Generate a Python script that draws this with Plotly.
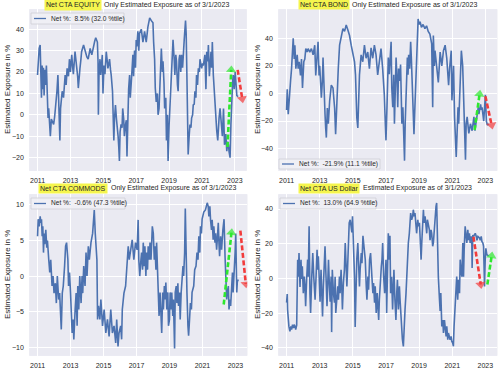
import plotly.graph_objects as go

# ---------------- data (decimal years, % exposure) ----------------
eq_t = [2011.00, 2011.04, 2011.10, 2011.16, 2011.20, 2011.24, 2011.28, 2011.32, 2011.36, 2011.40,
        2011.44, 2011.48, 2011.54, 2011.58, 2011.60, 2011.64, 2011.68, 2011.74, 2011.78, 2011.84,
        2011.88, 2011.98, 2012.04, 2012.08, 2012.14, 2012.18, 2012.24, 2012.28, 2012.32, 2012.36,
        2012.40, 2012.46, 2012.50, 2012.58, 2012.68, 2012.74, 2012.80, 2012.88, 2012.94, 2013.00,
        2013.08, 2013.14, 2013.18, 2013.28, 2013.34, 2013.38, 2013.44, 2013.48, 2013.54, 2013.58,
        2013.64, 2013.68, 2013.80, 2013.88, 2013.94, 2014.00, 2014.08, 2014.14, 2014.20, 2014.30,
        2014.40, 2014.48, 2014.54, 2014.60, 2014.64, 2014.68, 2014.70, 2014.74, 2014.80, 2014.84,
        2014.90, 2014.94, 2014.98, 2015.00, 2015.04, 2015.10, 2015.18, 2015.24, 2015.28, 2015.34,
        2015.38, 2015.44, 2015.48, 2015.56, 2015.60, 2015.64, 2015.68, 2015.74, 2015.80, 2015.84,
        2015.90, 2015.94, 2015.98, 2016.02, 2016.08, 2016.14, 2016.18, 2016.24, 2016.28, 2016.34,
        2016.40, 2016.44, 2016.50, 2016.54, 2016.60, 2016.64, 2016.70, 2016.74, 2016.80, 2016.84,
        2016.90, 2016.96, 2017.00, 2017.04, 2017.10, 2017.16, 2017.20, 2017.31, 2017.41, 2017.51,
        2017.61, 2017.71, 2017.82, 2017.92, 2018.02, 2018.06, 2018.12, 2018.16, 2018.22, 2018.29,
        2018.33, 2018.39, 2018.43, 2018.49, 2018.53, 2018.59, 2018.63, 2018.69, 2018.73, 2018.80,
        2018.84, 2018.90, 2018.94, 2019.00, 2019.04, 2019.10, 2019.14, 2019.20, 2019.24, 2019.31,
        2019.35, 2019.41, 2019.45, 2019.51, 2019.55, 2019.61, 2019.65, 2019.71, 2019.76, 2019.82,
        2019.86, 2019.92, 2020.00, 2020.04, 2020.08, 2020.12, 2020.16, 2020.22, 2020.27, 2020.33,
        2020.37, 2020.43, 2020.47, 2020.53, 2020.57, 2020.63, 2020.67, 2020.73, 2020.78, 2020.84,
        2020.88, 2020.98, 2021.04, 2021.08, 2021.14, 2021.18, 2021.24, 2021.29, 2021.35, 2021.39,
        2021.45, 2021.49, 2021.55, 2021.59, 2021.63, 2021.69, 2021.76, 2021.80, 2021.86, 2021.90,
        2021.96, 2022.00, 2022.04, 2022.10, 2022.16, 2022.24, 2022.31, 2022.37, 2022.45, 2022.51,
        2022.57, 2022.61, 2022.65, 2022.71, 2022.76, 2022.80, 2022.86, 2022.90, 2022.96, 2023.02,
        2023.08, 2023.12, 2023.20]
eq_v = [18.6, 25, 31, 32.6, 17, 8, 23, 12, 22, 9,
        21, 14, 23, 10, 5, -1.5, 3, -6, -10, -2,
        -3, -4.5, -1, 1.6, 6, 11, 18.6, 9, 2, -12,
        3, 8, 11, 8, 18.6, 14, 21.7, 18, 26, 20,
        28, 22, 19, 29.5, 26, 23, 18, 12.5, 20, 21.7,
        26, 29.5, 32.6, 30, 29.5, 27, 26, 29, 31, 28,
        32.6, 34.5, 36, 35, 34, 25, 0, 20, 26, 18.6,
        24, 28, 10, 22, 23, 19, 29.5, 25, 21.7, 24,
        26, 21, 18.6, 11, 3, -12, -2, 4.6, -2, -4.5,
        -10, -15, -21.6, -8, -4.5, -6, 3, -2, -10, -5,
        -2.5, -19.5, 3, 12, 18.6, 8, 15, 22, 28, 18,
        30, 22, 35, 32, 39, 30, 38, 40, 34, 39,
        34, 41, 45.3, 44, 43, 34, 26, 12.5, 6, 10,
        0, 3, 12.5, 22, 31, 20, 25, 15, 3, 8,
        -12, 0, -21.6, -5, 3, 10, 18.6, 28, 35, 26,
        18.6, 28, 25, 14, 11, 26, 28, 20, 28, 22,
        30, 35, 44, 38, 20, -8, -18.5, -10, -4.5, -6,
        -1.5, 0, 4.6, 5, 11, 8, 18.6, 14, 21.7, 20,
        26, 21.7, 24, 23, 26, 28, 12, 29.5, 25, 32.6,
        18, 25, 29.5, 22, 34, 18.6, 9.3, 3, -2, -7.6,
        -12, -3, -1.5, 3, -4.5, -10, 3, -14, -9, -17,
        -12.5, -14, -17.3, -20, -4.5, 9.3, 15, 18.6, 12, 20,
        13, 9, 8.5]

bd_t = [2011.00, 2011.04, 2011.10, 2011.16, 2011.24, 2011.30, 2011.36, 2011.40, 2011.46, 2011.50,
        2011.56, 2011.64, 2011.70, 2011.76, 2011.84, 2011.90, 2011.96, 2012.04, 2012.10, 2012.16,
        2012.24, 2012.30, 2012.40, 2012.50, 2012.60, 2012.70, 2012.76, 2012.84, 2012.90, 2012.96,
        2013.00, 2013.10, 2013.16, 2013.20, 2013.26, 2013.32, 2013.36, 2013.40, 2013.46, 2013.52,
        2013.60, 2013.70, 2013.80, 2013.90, 2013.96, 2014.04, 2014.12, 2014.20, 2014.30, 2014.40,
        2014.50, 2014.60, 2014.70, 2014.80, 2014.90, 2015.00, 2015.10, 2015.16, 2015.20, 2015.24,
        2015.30, 2015.36, 2015.40, 2015.50, 2015.60, 2015.70, 2015.80, 2015.90, 2016.00, 2016.10,
        2016.20, 2016.30, 2016.40, 2016.50, 2016.60, 2016.70, 2016.80, 2016.90, 2016.96, 2017.00,
        2017.06, 2017.10, 2017.14, 2017.20, 2017.27, 2017.31, 2017.35, 2017.41, 2017.47, 2017.51,
        2017.57, 2017.61, 2017.67, 2017.71, 2017.76, 2017.82, 2017.88, 2017.92, 2017.96, 2018.02,
        2018.06, 2018.12, 2018.16, 2018.22, 2018.29, 2018.33, 2018.37, 2018.43, 2018.49, 2018.53,
        2018.57, 2018.63, 2018.69, 2018.73, 2018.80, 2018.84, 2018.90, 2018.94, 2019.00, 2019.06,
        2019.14, 2019.24, 2019.35, 2019.45, 2019.55, 2019.65, 2019.76, 2019.82, 2019.86, 2019.92,
        2019.96, 2020.06, 2020.16, 2020.27, 2020.37, 2020.47, 2020.57, 2020.67, 2020.78, 2020.84,
        2020.94, 2020.98, 2021.08, 2021.14, 2021.18, 2021.24, 2021.29, 2021.35, 2021.39, 2021.49,
        2021.55, 2021.63, 2021.69, 2021.76, 2021.80, 2021.84, 2021.90, 2022.00, 2022.10, 2022.20,
        2022.31, 2022.37, 2022.41, 2022.51, 2022.57, 2022.61, 2022.71, 2022.76, 2022.80, 2022.90,
        2023.00, 2023.06, 2023.12, 2023.20]
bd_v = [-12, 3, -15, -1, 9, 18, 37, 40, 25, 35,
        18, 28, 18, 23, 13, 25, 4, 23, 25, 32.5,
        30, 32.5, 30, 32.5, 28, 35, 13, 30, 37.5, 13,
        20, -3, 9, 26, -5.5, -15, -25, -32, -10.5, -22,
        -5.5, 6, 4, -10.5, -29.5, 1.5, 18, 35, 42, 47,
        45, 49.6, 46, 42, 35, 30, 23, 13.5, -3, -17.5,
        -25, -8, 13.5, 28, 23, 35, 25.5, 30, 18, 33,
        25.5, 35, 28, 13.5, 25.5, 32.5, 18, -1, -22, -34,
        -10, 2.4, 26, 14, 28, 37.5, 4, -10, 13.6, -22,
        6, 26, 9, -10, 18, 9, 21, 1.5, -22, -10,
        -29.5, -48.7, -22, 1.5, 26, 13.6, 28, 18, 37.5, 26,
        14, -10, -29.5, -15, 14, 26, 42, 54, 50, 52,
        48, 50, 47, 49, 45, 43, 36, -10, 42, 20,
        31, 20, 8, 30, 20, 31, 35, 25.5, 6, 18,
        31, -5, 20, -17, -29, -46, -29.5, -10, -22, 6,
        31, 20, -5, -24, -48, -22, -17, -29, -22, -27,
        -17, -27, -24, -17, -10, -15, -8, -12, -10, -20,
        -1, -20, -23, -21.9]

cm_t = [2011.00, 2011.04, 2011.10, 2011.16, 2011.20, 2011.24, 2011.28, 2011.32, 2011.36, 2011.40,
        2011.44, 2011.50, 2011.56, 2011.60, 2011.68, 2011.74, 2011.80, 2011.88, 2011.94, 2012.00,
        2012.08, 2012.14, 2012.20, 2012.28, 2012.34, 2012.40, 2012.44, 2012.50, 2012.56, 2012.64,
        2012.70, 2012.76, 2012.84, 2012.88, 2012.94, 2013.00, 2013.04, 2013.10, 2013.16, 2013.20,
        2013.28, 2013.34, 2013.40, 2013.44, 2013.50, 2013.56, 2013.64, 2013.70, 2013.74, 2013.80,
        2013.88, 2013.94, 2014.00, 2014.08, 2014.14, 2014.24, 2014.34, 2014.40, 2014.44, 2014.50,
        2014.54, 2014.60, 2014.64, 2014.70, 2014.78, 2014.84, 2014.94, 2015.04, 2015.14, 2015.24,
        2015.34, 2015.44, 2015.54, 2015.64, 2015.74, 2015.80, 2015.88, 2015.94, 2016.04, 2016.10,
        2016.14, 2016.24, 2016.34, 2016.44, 2016.50, 2016.56, 2016.64, 2016.74, 2016.84, 2016.94,
        2017.04, 2017.10, 2017.14, 2017.20, 2017.27, 2017.31, 2017.37, 2017.41, 2017.47, 2017.51,
        2017.57, 2017.61, 2017.67, 2017.71, 2017.78, 2017.82, 2017.88, 2017.92, 2017.96, 2018.02,
        2018.08, 2018.12, 2018.18, 2018.22, 2018.29, 2018.33, 2018.37, 2018.43, 2018.49, 2018.53,
        2018.59, 2018.63, 2018.69, 2018.73, 2018.78, 2018.84, 2018.90, 2018.94, 2019.00, 2019.04,
        2019.10, 2019.14, 2019.20, 2019.24, 2019.31, 2019.35, 2019.41, 2019.45, 2019.51, 2019.55,
        2019.61, 2019.65, 2019.71, 2019.76, 2019.82, 2019.86, 2019.92, 2019.96, 2020.00, 2020.06,
        2020.12, 2020.16, 2020.22, 2020.27, 2020.33, 2020.37, 2020.47, 2020.53, 2020.61, 2020.67,
        2020.73, 2020.78, 2020.84, 2020.88, 2020.94, 2020.98, 2021.08, 2021.18, 2021.29, 2021.35,
        2021.39, 2021.45, 2021.49, 2021.55, 2021.59, 2021.65, 2021.69, 2021.76, 2021.80, 2021.86,
        2021.90, 2021.96, 2022.00, 2022.04, 2022.10, 2022.16, 2022.24, 2022.31, 2022.37, 2022.41,
        2022.47, 2022.51, 2022.57, 2022.61, 2022.67, 2022.71, 2022.78, 2022.82, 2022.86, 2022.92,
        2022.98, 2023.02, 2023.08, 2023.12, 2023.20]
cm_v = [5.6, 8, 7, 8.4, 7.5, 8, 5.6, 7, 3.3, 6,
        4.5, 6.5, 4, 5, 2.3, 0.5, 2.3, -1.4, 0, -2.4,
        -1, -3.8, 0, -3.3, -2.4, -6.1, -7.5, -2.4, -1.4, 1.4,
        4.2, 4.7, 2.3, -1.4, 0.5, -2.4, -4.7, -8, -6.1, -8.9,
        -4.7, -2.4, -7, -1.4, -4.7, 0, -3.8, 0, -2.4, 1.4,
        -1.4, 3.3, 0, 4.2, 2.3, 4.7, 6, 8, 9.3, 6,
        4.7, 2.3, -6.1, -4.2, -6.1, -3.3, -7, -4.7, -8, -6.1,
        -8.5, -4.7, -8, -7, -9.4, -6.1, -9.9, -8, -7, -8.9,
        -4.7, -2.4, -1.4, 2.3, 4.2, 2.3, 3.7, 5.1, 2.3, 4.7,
        3.7, 7.9, 2.3, 0, 2.3, 3.3, 0.9, 4.7, 1.4, 4.2,
        0, 3.3, 0.9, 4.2, 2.3, 4.7, 2.3, 5.6, 7, 6,
        2.3, 4.2, 0.9, 4.7, 0, -2.3, -5.6, -2.3, -5.6, -8,
        -2.3, -4.7, -1.4, -3.3, -0.9, -4.7, -2.3, -7, -6.1, -2.3,
        -4.7, -2.3, -5.6, -3.3, -10.2, -2.3, -1.4, -3.8, -1, -4.2,
        -2.3, -6.1, -2.3, 0, 1.4, 0, 3.3, 9.5, 3, -2.3,
        -7, -8.4, -6, -3.8, -4.7, -2.3, -1.4, 0.9, 1.4, 3.3,
        2.3, 5.6, 3.3, 7, 6, 8, 9, 9.3, 10.3, 9.8,
        8.4, 9.8, 7.9, 6.5, 7.9, 5.1, 7, 4.7, 6, 3.7,
        5.1, 7.5, 4.7, 2.8, 5.6, 3.7, 6.5, 8, 2.8, -0.5,
        -3.3, -2.3, -1.4, -4.7, -3.3, -4.2, -1.4, 0.5, -2.3, 0,
        3.3, 6, -2.3, -0.6, -0.6]

us_t = [2011.00, 2011.04, 2011.06, 2011.10, 2011.14, 2011.20, 2011.26, 2011.30, 2011.36, 2011.40,
        2011.46, 2011.51, 2011.55, 2011.61, 2011.65, 2011.67, 2011.71, 2011.75, 2011.81, 2011.87,
        2011.91, 2011.95, 2012.01, 2012.07, 2012.11, 2012.15, 2012.21, 2012.27, 2012.31, 2012.36,
        2012.41, 2012.45, 2012.52, 2012.58, 2012.64, 2012.68, 2012.72, 2012.78, 2012.84, 2012.88,
        2012.92, 2012.98, 2013.02, 2013.08, 2013.13, 2013.17, 2013.22, 2013.28, 2013.32, 2013.38,
        2013.44, 2013.48, 2013.53, 2013.57, 2013.63, 2013.69, 2013.72, 2013.76, 2013.79, 2013.83,
        2013.89, 2013.93, 2013.97, 2014.03, 2014.09, 2014.13, 2014.19, 2014.23, 2014.29, 2014.33,
        2014.37, 2014.43, 2014.49, 2014.54, 2014.60, 2014.64, 2014.70, 2014.74, 2014.78, 2014.84,
        2014.90, 2014.94, 2014.98, 2015.04, 2015.10, 2015.14, 2015.18, 2015.24, 2015.30, 2015.34,
        2015.40, 2015.44, 2015.51, 2015.55, 2015.61, 2015.67, 2015.75, 2015.81, 2015.85, 2015.91,
        2015.95, 2016.01, 2016.07, 2016.15, 2016.21, 2016.25, 2016.31, 2016.35, 2016.41, 2016.47,
        2016.56, 2016.60, 2016.66, 2016.72, 2016.76, 2016.80, 2016.86, 2016.92, 2016.96, 2017.00,
        2017.04, 2017.10, 2017.14, 2017.20, 2017.24, 2017.28, 2017.34, 2017.40, 2017.44, 2017.48,
        2017.54, 2017.60, 2017.65, 2017.69, 2017.75, 2017.81, 2017.85, 2017.91, 2017.95, 2017.99,
        2018.05, 2018.09, 2018.15, 2018.21, 2018.25, 2018.31, 2018.35, 2018.41, 2018.45, 2018.49,
        2018.55, 2018.61, 2018.65, 2018.71, 2018.75, 2018.81, 2018.85, 2018.92, 2018.96, 2019.02,
        2019.06, 2019.12, 2019.16, 2019.22, 2019.26, 2019.30, 2019.36, 2019.42, 2019.46, 2019.50,
        2019.56, 2019.62, 2019.66, 2019.72, 2019.76, 2019.82, 2019.86, 2019.92, 2019.96, 2020.02,
        2020.06, 2020.10, 2020.16, 2020.23, 2020.27, 2020.31, 2020.37, 2020.43, 2020.47, 2020.53,
        2020.57, 2020.63, 2020.67, 2020.73, 2020.77, 2020.83, 2020.87, 2020.93, 2020.97, 2021.03,
        2021.07, 2021.11, 2021.17, 2021.23, 2021.27, 2021.33, 2021.37, 2021.44, 2021.48, 2021.52,
        2021.58, 2021.64, 2021.68, 2021.72, 2021.78, 2021.84, 2021.88, 2021.94, 2021.98, 2022.04,
        2022.08, 2022.14, 2022.18, 2022.20, 2022.24, 2022.29, 2022.39, 2022.45, 2022.49, 2022.55,
        2022.65, 2022.69, 2022.75, 2022.79, 2022.85, 2022.89, 2022.93, 2022.95, 2022.99, 2023.03,
        2023.09, 2023.20]
us_v = [-14, -9, -18, -24, -27.7, -30.6, -27.7, -29.6, -26.7, -28.7,
        -26.7, -27.7, -29.6, -27, -5, 10.8, 1, 14.6, -5, 10.8,
        -0.4, 7, -8.5, 1, -4.6, -16, -0.8, 10.8, 1, 30,
        -8.5, -20, 1, 14.6, 1, -4.6, -12.3, 1, 16.5, 5,
        12.7, -2.7, -13.5, 5, -8.5, -22, -4.6, 10.8, 18.5, 1,
        -16, -4.6, 10.8, -0.8, -13.5, 1, -31, 5, -4.6, -8.5,
        -14, 1, -20, -8.5, -4.6, -12.3, 1, -8.5, 5, -4.6,
        -18, -2.7, 5, 20.4, 1, -4.6, 10.8, 24.6, 32, 33.8,
        30, 26.5, 35.8, 20.4, 1, -28, -7.7, 11.5, 20.4, 10.8,
        -4.6, 5, 14.6, 8.8, 24.6, 18.5, 10.8, -4.6, -12.3, 1,
        -6.5, 10.8, 14.6, 1, -8.5, -2.7, -14, -4.6, -20, -8.5,
        -24, -12.3, 1, 6.9, 10.8, 20.4, 1, -8.5, 1, 10.8,
        -20, 1, 26, 10.8, 24.6, -8.5, 1, -18, -4.6, 5,
        -12.3, -24, -8.5, -0.8, -18, -4.6, -12.3, -24, -27.7, -35,
        -39.2, -27.7, -18, -8.5, 1, 10.8, 20.4, 26, 33.8, 37.7,
        33.8, 35.8, 39.6, 35.8, 37.7, 32, 26, 33.8, 30, 32,
        20.4, 10.8, 20.4, 33.8, 39.6, 32, 35.8, 30, 26, 33.8,
        30, 28, 22, 28, 26, 18.5, 20.4, 30, 37.7, 41.5,
        43.5, 20.4, 1, -12.3, -18.8, -8.5, -27.7, -24, -31.5, -24,
        -27.7, -33.5, -27.7, -35.4, -31.5, -33.5, -35.4, -33.5, -36.3, -37.3,
        -39.2, -27.7, -18, -8.5, 1, -12.3, -0.8, -8.5, 10.8, 5,
        1, 20.4, 1, 16.5, 30, 24.2, 20.4, 28, 22, 26,
        20.4, 24.2, 22, 6, 25, 24.2, 26, 24.2, 22, 24.2,
        23.3, 22, 24.2, 21.3, 20.4, 18.5, 1.1, -4.6, 10.8, 17.3,
        13.6, 13.0]

# arrows: (x_start, y_start, x_end, y_end)
eq_green = [2022.55, -15, 2022.78, 21]
eq_red = [2023.17, 21, 2023.45, 7.5]
bd_green = [2022.35, -26.5, 2022.65, -0.5]
bd_red = [2023.00, -2, 2023.38, -23]
cm_green = [2022.29, -4, 2022.76, 6.1]
cm_red = [2023.30, 6.4, 2023.63, -1.1]
us_red = [2022.28, 24, 2022.72, -3.5]
us_green = [2023.12, -3.5, 2023.38, 13]

year_ticks = [2011, 2013, 2015, 2017, 2019, 2021, 2023]
year_labels = ["2011", "2013", "2015", "2017", "2019", "2021", "2023"]

titles_hl = ["Net CTA EQUITY", "Net CTA BOND", "Net CTA COMMODS", "Net CTA US Dollar"]
titles_rest = ["Only Estimated Exposure as of 3/1/2023", "Only Estimated Exposure as of 3/1/2023",
               "Only Estimated Exposure as of 3/1/2023", "Estimated Exposure as of 3/1/2023"]
legend_texts = ["Net %:  8.5% (32.0 %tile)", "Net %:  -21.9% (11.1 %tile)",
                "Net %:  -0.6% (47.3 %tile)", "Net %:  13.0% (64.9 %tile)"]
y_label = "Estimated Exposure in %"

# ---------------- layout helpers ----------------
W, H = 500, 369
BLUE = "#4C72B0"
GREEN = "#2EE82E"
RED = "#F23C3C"
TXT = "#262626"
FONT = "Liberation Sans, Arial, sans-serif"


def px(x):
    return x / W


def py(y):
    return 1 - y / H


panels = [
    dict(t=eq_t, v=eq_v, yr=[-26.1, 49.3], yt=[-20, -10, 0, 10, 20, 30, 40],
         dx=[29.3, 246.7], dy=[9.3, 170.7], arrows=[(eq_green, GREEN), (eq_red, RED)],
         split=101.5, ty=4.8, ylab_x=7, leg=[31, 13, 124, 24]),
    dict(t=bd_t, v=bd_v, yr=[-56, 61], yt=[-40, -20, 0, 20, 40],
         dx=[278.3, 497.3], dy=[9.3, 170.7], arrows=[(bd_green, GREEN), (bd_red, RED)],
         split=349.5, ty=4.8, ylab_x=257, leg=[279, 159, 380, 169]),
    dict(t=cm_t, v=cm_v, yr=[-11.2, 11.5], yt=[-10, -5, 0, 5, 10],
         dx=[29.3, 247.3], dy=[194.3, 355.7], arrows=[(cm_green, GREEN), (cm_red, RED)],
         split=108, ty=188.5, ylab_x=7, leg=[31, 198, 125, 209]),
    dict(t=us_t, v=us_v, yr=[-44.6, 48.5], yt=[-40, -20, 0, 20, 40],
         dx=[278.3, 497.3], dy=[194.3, 355.7], arrows=[(us_red, RED), (us_green, GREEN)],
         split=360, ty=188.5, ylab_x=257, leg=[280, 198, 376, 209]),
]

fig = go.Figure()
shapes = []
annotations = []
layout = {}

for i, p in enumerate(panels):
    n = "" if i == 0 else str(i + 1)
    xa, ya = "x" + n, "y" + n
    fig.add_trace(go.Scatter(x=p["t"], y=p["v"], mode="lines",
                             line=dict(color=BLUE, width=1.6),
                             xaxis=xa, yaxis=ya, showlegend=False, hoverinfo="skip"))
    for arr, col in p["arrows"]:
        fig.add_trace(go.Scatter(x=[arr[0], arr[2]], y=[arr[1], arr[3]], mode="lines+markers",
                                 line=dict(color=col, width=2.6, dash="5px,2.5px"),
                                 marker=dict(symbol="triangle-up", size=[0, 9], color=col,
                                             angleref="previous", line=dict(width=0)),
                                 xaxis=xa, yaxis=ya, showlegend=False, hoverinfo="skip"))
    layout["xaxis" + n] = dict(domain=[px(p["dx"][0]), px(p["dx"][1])], range=[2010.5, 2023.72],
                               anchor=ya, tickvals=year_ticks, ticktext=year_labels,
                               showgrid=True, gridcolor="white", gridwidth=1, zeroline=False,
                               showline=False, ticks="outside", ticklen=3,
                               tickcolor="rgba(0,0,0,0)",
                               tickfont=dict(size=7, color=TXT, family=FONT))
    layout["yaxis" + n] = dict(domain=[py(p["dy"][1]), py(p["dy"][0])], range=p["yr"],
                               anchor=xa, tickvals=p["yt"],
                               showgrid=True, gridcolor="white", gridwidth=1, zeroline=False,
                               showline=False, ticks="outside", ticklen=3,
                               tickcolor="rgba(0,0,0,0)",
                               tickfont=dict(size=7, color=TXT, family=FONT))
    # plot background
    shapes.append(dict(type="rect", xref="paper", yref="paper", layer="below",
                       x0=px(p["dx"][0]), x1=px(p["dx"][1]), y0=py(p["dy"][1]), y1=py(p["dy"][0]),
                       fillcolor="#EAEAF2", line=dict(width=0)))
    # title (highlighted part + rest)
    annotations.append(dict(xref="paper", yref="paper", x=px(p["split"]), y=py(p["ty"]),
                            xanchor="right", yanchor="middle", text=titles_hl[i], showarrow=False,
                            bgcolor="#F5F54E", borderpad=1,
                            font=dict(size=7.0, color=TXT, family=FONT)))
    annotations.append(dict(xref="paper", yref="paper", x=px(p["split"] + 0.5), y=py(p["ty"]),
                            xanchor="left", yanchor="middle", text=titles_rest[i], showarrow=False,
                            borderpad=1, font=dict(size=7.0, color=TXT, family=FONT)))
    # y label
    annotations.append(dict(xref="paper", yref="paper", x=px(p["ylab_x"]),
                            y=py((p["dy"][0] + p["dy"][1]) / 2), textangle=-90,
                            xanchor="center", yanchor="middle", text=y_label, showarrow=False,
                            font=dict(size=8, color=TXT, family=FONT)))
    # legend box
    lx0, ly0, lx1, ly1 = p["leg"]
    shapes.append(dict(type="rect", xref="paper", yref="paper", layer="above",
                       x0=px(lx0), x1=px(lx1), y0=py(ly1), y1=py(ly0),
                       fillcolor="rgba(240,240,246,0.85)", line=dict(color="#CFCFD6", width=0.8)))
    yc = (ly0 + ly1) / 2
    shapes.append(dict(type="line", xref="paper", yref="paper", layer="above",
                       x0=px(lx0 + 3), x1=px(lx0 + 15), y0=py(yc), y1=py(yc),
                       line=dict(color=BLUE, width=1.3)))
    annotations.append(dict(xref="paper", yref="paper", x=px(lx0 + 18), y=py(yc),
                            xanchor="left", yanchor="middle", text=legend_texts[i], showarrow=False,
                            font=dict(size=6.6, color=TXT, family=FONT)))

fig.update_layout(width=W, height=H, margin=dict(l=0, r=0, t=0, b=0),
                  paper_bgcolor="white", plot_bgcolor="#EAEAF2",
                  shapes=shapes, annotations=annotations, showlegend=False,
                  font=dict(family=FONT, color=TXT), **layout)

fig.write_html("out.html", config={"displayModeBar": False},
               post_script="document.body.style.margin='0';document.body.style.overflow='hidden';")
